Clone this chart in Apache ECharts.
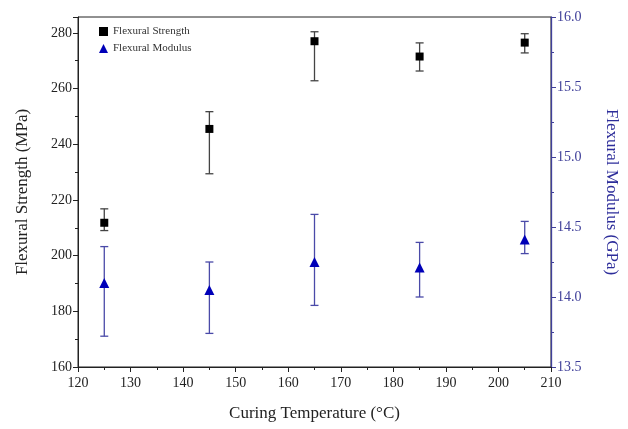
<!DOCTYPE html>
<html>
<head>
<meta charset="utf-8">
<script src="https://cdn.jsdelivr.net/npm/echarts@6/dist/echarts.min.js"></script>
<style>html,body{margin:0;padding:0;background:#fff}#c{width:628px;height:429px}</style>
</head>
<body>
<div id="c"></div>
<script>
var temperatures = [125, 145, 165, 185, 205];
var strength = [211.8, 245.5, 277.0, 271.5, 276.5];
var strengthLow = [209.0, 229.4, 262.8, 266.3, 272.8];
var strengthHigh = [216.8, 251.7, 280.4, 276.4, 279.7];
var modulus = [14.10, 14.05, 14.25, 14.21, 14.41];
var modulusLow = [13.72, 13.74, 13.94, 14.00, 14.31];
var modulusHigh = [14.36, 14.25, 14.59, 14.39, 14.54];

var FONT = '"Liberation Serif", "Times New Roman", serif';
var BLUE_AX = '#40409a';

function pairs(xs, ys) { return xs.map(function (x, i) { return [x, ys[i]]; }); }
function errData(xs, lo, hi) { return xs.map(function (x, i) { return [x, lo[i], hi[i]]; }); }

function errRender(color) {
  return function (params, api) {
    var x = api.value(0);
    var lo = api.coord([x, api.value(1)]);
    var hi = api.coord([x, api.value(2)]);
    var w = 4;
    var st = { stroke: color, lineWidth: 1.3 };
    return {
      type: 'group',
      children: [
        { type: 'line', shape: { x1: lo[0], y1: lo[1], x2: hi[0], y2: hi[1] }, style: st },
        { type: 'line', shape: { x1: lo[0] - w, y1: lo[1], x2: lo[0] + w, y2: lo[1] }, style: st },
        { type: 'line', shape: { x1: hi[0] - w, y1: hi[1], x2: hi[0] + w, y2: hi[1] }, style: st }
      ]
    };
  };
}

var chart = echarts.init(document.getElementById('c'), null, { renderer: 'canvas' });
chart.setOption({
  animation: false,
  textStyle: { fontFamily: FONT },
  grid: { left: 78, right: 75, top: 17, bottom: 62, show: true, borderColor: '#222', borderWidth: 1 },
  legend: {
    orient: 'vertical', left: 94, top: 21, itemGap: 6, itemWidth: 9, itemHeight: 9,
    textStyle: { fontFamily: FONT, fontSize: 11, color: '#333' },
    data: [
      { name: 'Flexural Strength', icon: 'rect', itemStyle: { color: '#000', opacity: 1 } },
      { name: 'Flexural Modulus', icon: 'triangle', itemStyle: { color: '#0000b8', opacity: 1 } }
    ]
  },
  xAxis: {
    type: 'value', min: 120, max: 210, interval: 10,
    name: 'Curing Temperature (\u00b0C)', nameLocation: 'middle', nameGap: 38,
    nameTextStyle: { fontFamily: FONT, fontSize: 17, color: '#222' },
    axisLine: { lineStyle: { color: '#222', width: 1 } },
    axisTick: { length: 5, lineStyle: { color: '#222' } },
    minorTick: { show: true, splitNumber: 2, length: 3, lineStyle: { color: '#222' } },
    axisLabel: { fontFamily: FONT, fontSize: 14, color: '#222', margin: 9 },
    splitLine: { show: false }
  },
  yAxis: [
    {
      type: 'value', min: 160, max: 285.7, interval: 20, position: 'left',
      name: 'Flexural Strength (MPa)', nameLocation: 'middle', nameGap: 47, nameRotate: 90,
      nameTextStyle: { fontFamily: FONT, fontSize: 17, color: '#222' },
      axisLine: { show: true, lineStyle: { color: '#222', width: 1 } },
      axisTick: { length: 5, lineStyle: { color: '#222' } },
      minorTick: { show: true, splitNumber: 2, length: 3, lineStyle: { color: '#222' } },
      axisLabel: { fontFamily: FONT, fontSize: 14, color: '#222', margin: 6, showMaxLabel: false },
      splitLine: { show: false }
    },
    {
      type: 'value', min: 13.5, max: 16.0, interval: 0.5, position: 'right',
      name: 'Flexural Modulus (GPa)', nameLocation: 'middle', nameGap: 52, nameRotate: -90,
      nameTextStyle: { fontFamily: FONT, fontSize: 17, color: '#2d2d9a' },
      axisLine: { show: true, lineStyle: { color: BLUE_AX, width: 1.3 } },
      axisTick: { length: 5, lineStyle: { color: BLUE_AX } },
      minorTick: { show: true, splitNumber: 2, length: 3, lineStyle: { color: BLUE_AX } },
      axisLabel: { fontFamily: FONT, fontSize: 14, color: BLUE_AX, margin: 6,
        formatter: function (v) { return v.toFixed(1); } },
      splitLine: { show: false }
    }
  ],
  series: [
    {
      name: 'Flexural Strength err', type: 'custom', yAxisIndex: 0,
      renderItem: errRender('#444'), data: errData(temperatures, strengthLow, strengthHigh), z: 2
    },
    {
      name: 'Flexural Modulus err', type: 'custom', yAxisIndex: 1,
      renderItem: errRender('#4a4aa8'), data: errData(temperatures, modulusLow, modulusHigh), z: 2
    },
    {
      name: 'Flexural Strength', type: 'scatter', yAxisIndex: 0, symbol: 'rect', symbolSize: 8,
      itemStyle: { color: '#000', opacity: 1 }, data: pairs(temperatures, strength), z: 3
    },
    {
      name: 'Flexural Modulus', type: 'scatter', yAxisIndex: 1, symbol: 'triangle', symbolSize: 10,
      itemStyle: { color: '#0000b8', opacity: 1 }, data: pairs(temperatures, modulus), z: 3
    }
  ]
});
</script>
</body>
</html>
